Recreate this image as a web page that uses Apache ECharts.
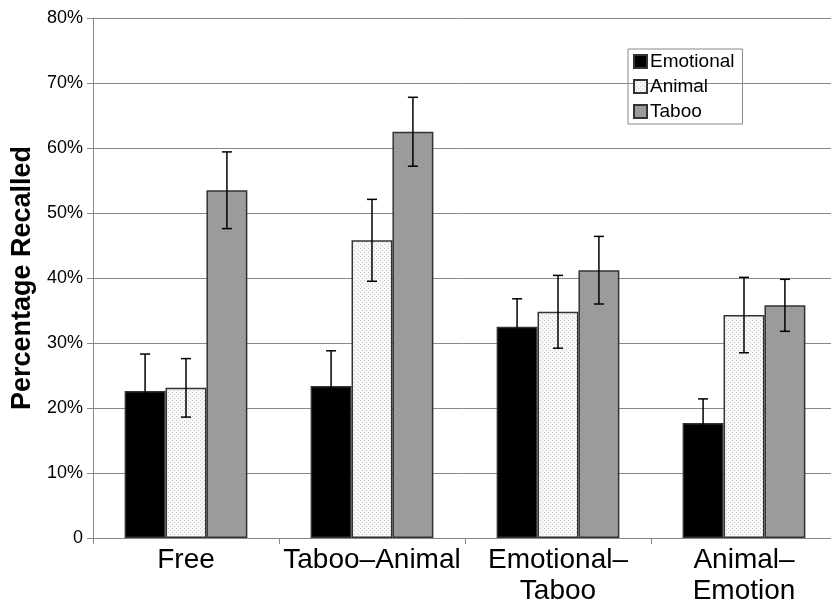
<!DOCTYPE html>
<html><head><meta charset="utf-8">
<script src="https://cdn.jsdelivr.net/npm/echarts@6/dist/echarts.min.js"></script>
<style>html,body{margin:0;padding:0;background:#fff}#c{width:831px;height:603px}</style>
</head><body><div id="c"></div>
<script>
var categories = ['Free', 'Taboo\u2013Animal', 'Emotional\u2013\nTaboo', 'Animal\u2013\nEmotion'];
var seriesNames = ['Emotional', 'Animal', 'Taboo'];
var emotional = [22.6, 23.4, 32.5, 17.7];
var emotionalErr = [5.7, 5.4, 4.3, 3.7];
var animal = [23.1, 45.8, 34.8, 34.3];
var animalErr = [4.5, 6.3, 5.6, 5.8];
var taboo = [53.5, 62.5, 41.2, 35.8];
var tabooErr = [5.9, 5.3, 5.2, 4.0];
var yTicks = [0, 10, 20, 30, 40, 50, 60, 70, 80];

function pattern(bg, dot) {
  var c = document.createElement('canvas');
  c.width = 4; c.height = 4;
  var g = c.getContext('2d');
  g.fillStyle = bg; g.fillRect(0, 0, 4, 4);
  g.fillStyle = dot; g.fillRect(0, 0, 1, 1); g.fillRect(2, 2, 1, 1);
  return c;
}
var animalFill = {image: pattern('#f7f7f7', '#c8c8c8'), repeat: 'repeat'};
var tabooFill = {image: pattern('#999999', '#aaaaaa'), repeat: 'repeat'};

var catGap = 0.34;
function errSeries(vals, errs, idx) {
  return {
    type: 'custom',
    name: seriesNames[idx] + ' err',
    data: vals.map(function (v, i) { return [i, v, errs[i]]; }),
    z: 10,
    renderItem: function (params, api) {
      var i = api.value(0), v = api.value(1), e = api.value(2);
      var bw = api.size([1, 0])[0] * (1 - catGap) / 3;
      var c = api.coord([i, v]);
      var x = c[0] + (idx - 1) * bw;
      var yt = api.coord([i, v + e])[1];
      var yb = api.coord([i, v - e])[1];
      var s = {stroke: '#000', lineWidth: 1.5};
      return {type: 'group', children: [
        {type: 'line', shape: {x1: x, y1: yt, x2: x, y2: yb}, style: s},
        {type: 'line', shape: {x1: x - 5, y1: yt, x2: x + 5, y2: yt}, style: s},
        {type: 'line', shape: {x1: x - 5, y1: yb, x2: x + 5, y2: yb}, style: s}
      ]};
    }
  };
}

var chart = echarts.init(document.getElementById('c'));
chart.setOption({
  animation: false,
  backgroundColor: '#fff',
  grid: {left: 93, right: -6, top: 18, bottom: 65, outerBoundsMode: 'none', containLabel: false},
  legend: {
    data: seriesNames,
    orient: 'vertical', left: 628, top: 49,
    itemWidth: 13, itemHeight: 13, itemGap: 6,
    icon: 'rect',
    borderColor: '#888', borderWidth: 1, padding: [3, 8, 3, 5],
    textStyle: {fontFamily: 'Liberation Sans, Arial', fontSize: 19, color: '#000', padding: [0, 0, 0, -2]}
  },
  xAxis: {
    type: 'category', data: categories,
    axisLine: {lineStyle: {color: '#888', width: 1}},
    axisTick: {show: true, length: 6, lineStyle: {color: '#888'}},
    axisLabel: {interval: 0, fontFamily: 'Liberation Sans, Arial', fontSize: 28, color: '#000', margin: 7, lineHeight: 31}
  },
  yAxis: {
    type: 'value', min: yTicks[0], max: yTicks[yTicks.length - 1], interval: 10,
    name: 'Percentage Recalled', nameLocation: 'middle', nameGap: 57,
    nameTextStyle: {fontFamily: 'Liberation Sans, Arial', fontSize: 27, fontWeight: 'bold', color: '#000'},
    axisLine: {show: true, lineStyle: {color: '#888'}},
    axisTick: {show: true, length: 6, lineStyle: {color: '#888'}},
    splitLine: {lineStyle: {color: '#888', width: 1}},
    axisLabel: {fontFamily: 'Liberation Sans, Arial', fontSize: 18, color: '#000', margin: 10,
      formatter: function (v) { return v === 0 ? '0' : v + '%'; }}
  },
  series: [
    {type: 'bar', name: 'Emotional', data: emotional, barGap: '0%', barCategoryGap: '34%',
     itemStyle: {color: '#000', borderColor: '#333', borderWidth: 1.5}},
    {type: 'bar', name: 'Animal', data: animal,
     itemStyle: {color: animalFill, borderColor: '#333', borderWidth: 1.5}},
    {type: 'bar', name: 'Taboo', data: taboo,
     itemStyle: {color: tabooFill, borderColor: '#333', borderWidth: 1.5}},
    errSeries(emotional, emotionalErr, 0),
    errSeries(animal, animalErr, 1),
    errSeries(taboo, tabooErr, 2)
  ]
});
</script></body></html>
